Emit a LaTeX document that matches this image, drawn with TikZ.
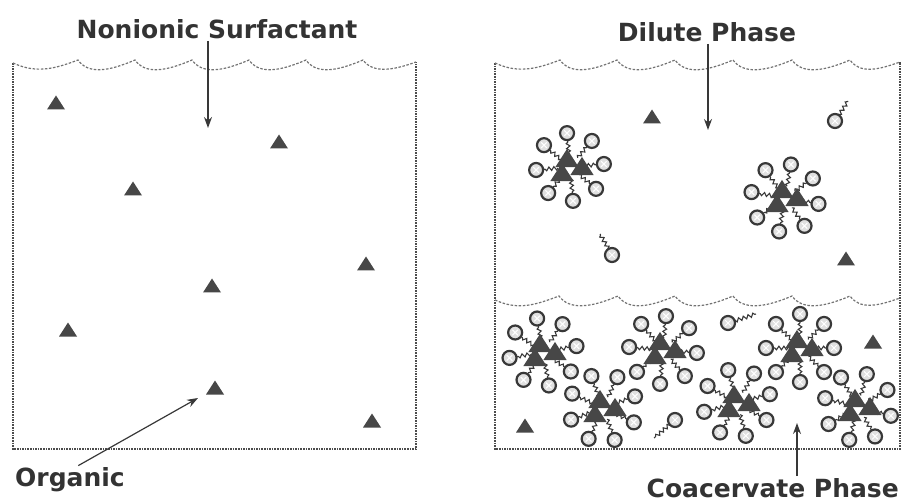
\documentclass[tikz,border=0pt]{standalone}
\usepackage{fontspec}
\setsansfont{DejaVu Sans}
\usetikzlibrary{arrows.meta, positioning, decorations.pathmorphing}

\colorlet{ink}{black!78}
\colorlet{solute}{black!72}

\tikzset{
  caption/.style={font=\sffamily\bfseries\fontsize{25}{25}\selectfont, text=black!80, inner sep=2pt},
  pointer/.style={-{Stealth[length=11pt,width=8pt]}, line width=1.2pt, ink},
  wall/.style={densely dotted, line width=1.6pt, black!70},
  surface/.style={dash pattern=on 2.5pt off 1.6pt, line width=1.2pt, black!55},
  tail/.style={ink, line width=1.1pt, decorate, decoration={snake, amplitude=1.8pt, segment length=5pt}},
  pics/organic/.style={code={\fill[solute] (-9,5.5) -- (9,5.5) -- (0,-8.5) -- cycle;}},
  pics/head/.style={code={
    \draw[ink, line width=2.2pt, fill=black!12] (0,0) circle[radius=7];
    \draw[white, line width=1pt] (-2.8,-2.8) -- (2.8,2.8) (-2.8,2.8) -- (2.8,-2.8);}},
  pics/micelle/.style={code={
    \begin{scope}[rotate=#1]
      \foreach \a in {0,45,...,315} {
        \draw[tail] (\a:12) -- (\a:27);
        \pic at (\a:34) {head};
      }
    \end{scope}
    \pic[scale=1.3] at (-3,-7) {organic};
    \pic[scale=1.3] at (12,1) {organic};
    \pic[scale=1.3] at (-8,7) {organic};}},
  pics/monomer/.style 2 args={code={
    \draw[tail] (0,0) -- (#1,#2);
    \pic at (0,0) {head};}}
}

\begin{document}
\begin{tikzpicture}[x=1pt, y=-1pt]
\useasboundingbox (0,0) rectangle (904,502);

% beaker with the organic solute only
\draw[wall] (13,63) -- (13,449) -- (416,449) -- (416,62);
\draw[surface] (13,63) .. controls +(22,10) and +(-26,10) .. (78,60)
  foreach \x in {135,192,249,306,363} { .. controls +(10,14) and +(-28,12) .. (\x,60) }
  .. controls +(10,14) and +(-22,8) .. (416,62);
\foreach \p in {(56,104), (279,143), (133,190), (366,265), (212,287), (68,331), (215,389), (372,422)}
  \pic at \p {organic};

% beaker after phase separation
\draw[wall] (495,63) -- (495,449) -- (900,449) -- (900,62);
\draw[surface] (495,63) .. controls +(22,10) and +(-26,10) .. (560,60)
  foreach \x in {617,675,733,792,850} { .. controls +(10,14) and +(-28,12) .. (\x,60) }
  .. controls +(10,14) and +(-22,8) .. (900,62);
\draw[surface] (495,300) .. controls +(22,10) and +(-26,10) .. (559,296)
  foreach \x in {618,675,733,792,850} { .. controls +(10,14) and +(-28,12) .. (\x,296) }
  .. controls +(10,14) and +(-22,8) .. (900,298);

% dilute phase
\pic at (652,118) {organic};
\pic at (846,260) {organic};
\pic at (570,167) {micelle=5};
\pic at (785,198) {micelle=-10};
\pic at (835,121) {monomer={13}{-20}};
\pic at (612,255) {monomer={-12}{-21}};

% coacervate phase
\foreach \x/\y/\r in {543/352/10, 663/350/-5, 603/408/20, 800/348/0, 737/403/15, 858/407/-15}
  \pic at (\x,\y) {micelle=\r};
\pic at (525,427) {organic};
\pic at (873,343) {organic};
\pic at (728,323) {monomer={28}{-9}};
\pic at (675,420) {monomer={-21}{18}};

% labels
\node[caption] (surfactant) at (217,29) {Nonionic Surfactant};
\coordinate (surfactanttip) at (208,128);
\draw[pointer] (surfactanttip |- surfactant.south) -- (surfactanttip);

\node[caption] (dilute) at (707,32) {Dilute Phase};
\coordinate (dilutetip) at (708,130);
\draw[pointer] (dilutetip |- dilute.south) -- (dilutetip);

\node[caption, anchor=west] (organic) at (13,480) {Organic};
\coordinate (organictip) at (198,398);
\draw[pointer] (organic.60) -- (organictip);

\node[caption, anchor=east] (coacervate) at (901,488) {Coacervate Phase};
\coordinate (coacervatetip) at (797,423);
\draw[pointer] (coacervatetip |- coacervate.north) -- (coacervatetip);
\end{tikzpicture}
\end{document}
